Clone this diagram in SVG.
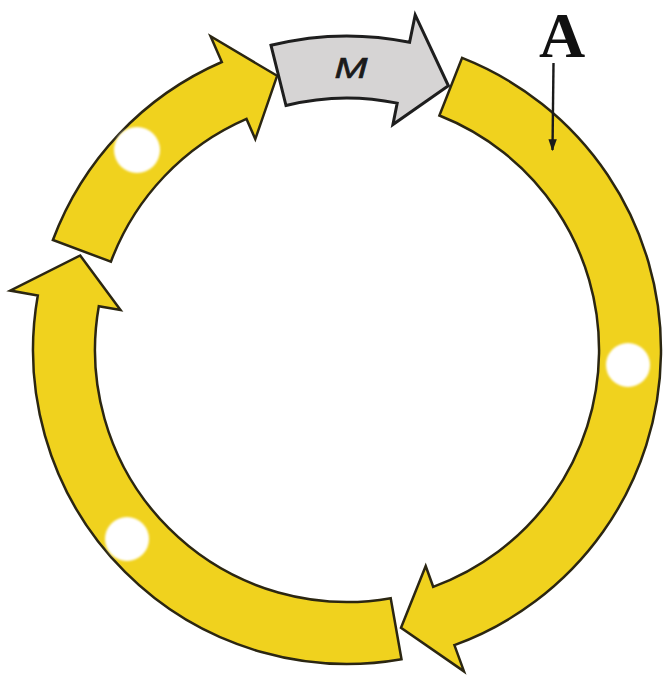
<svg xmlns="http://www.w3.org/2000/svg" width="665" height="676" viewBox="0 0 665 676">
  <style>
    .seg { fill: #F0D21E; stroke: #2b2612; stroke-width: 2.5; stroke-linejoin: miter; }
    .gray { fill: #D6D4D4; stroke: #1e1e1e; stroke-width: 3; stroke-linejoin: miter; }
    .dot { fill: #ffffff; filter: url(#soft); }
    .lbl { font-family: "Liberation Serif", "Times New Roman", serif; font-weight: bold; fill: #111; }
    .m { font-family: "Liberation Sans", Arial, sans-serif; font-style: italic; fill: #1a1a1a; stroke: #1a1a1a; stroke-width: 0.6; }
  </style>
  <defs>
    <filter id="soft" x="-30%" y="-30%" width="160%" height="160%">
      <feGaussianBlur stdDeviation="1.2"/>
    </filter>
    <marker id="ah" viewBox="0 0 10 10" refX="9" refY="5" markerWidth="5" markerHeight="5" orient="auto" markerUnits="strokeWidth">
      <path d="M0,1.5 L10,5 L0,8.5 Z" fill="#1a1a1a"/>
    </marker>
  </defs>
  <rect width="665" height="676" fill="#ffffff"/>

  <g id="phase-A">
    <path class="seg" d="M462.1,57.9 A314,314 0 0 1 454.4,645.1 L464.0,671.4 L401.0,627.8 L425.7,566.1 L433.2,586.8 A252,252 0 0 0 439.4,115.5 Z"/>
    <circle class="dot" cx="628" cy="365" r="22"/>
  </g>

  <g id="phase-bottom-left">
    <path class="seg" d="M401.5,659.2 A314,314 0 0 1 37.8,295.5 L10.2,290.6 L80.2,255.5 L120.5,310.1 L98.8,306.3 A252,252 0 0 0 390.7,598.2 Z"/>
    <circle class="dot" cx="127" cy="539" r="22"/>
  </g>

  <g id="phase-top-left">
    <path class="seg" d="M52.9,240.0 A314,314 0 0 1 221.8,62.0 L210.6,36.3 L277.1,75.8 L255.3,139.1 L246.5,118.9 A252,252 0 0 0 110.9,261.7 Z"/>
    <circle class="dot" cx="137" cy="150" r="23"/>
  </g>

  <g id="phase-M">
    <path class="gray" d="M271.0,45.3 A314,314 0 0 1 409.6,42.3 L415.2,14.9 L448.4,85.8 L392.9,124.6 L397.2,103.1 A252,252 0 0 0 286.0,105.5 Z"/>
    <text class="m" x="351" y="78" font-size="29" text-anchor="middle" textLength="33" lengthAdjust="spacingAndGlyphs">M</text>
  </g>

  <g id="label-A">
    <text class="lbl" x="562" y="57" font-size="64" text-anchor="middle">A</text>
  </g>

  <g id="connectors">
    <path d="M553.5,63 L552.5,150" stroke="#1a1a1a" stroke-width="2.4" fill="none" marker-end="url(#ah)"/>
  </g>
</svg>
